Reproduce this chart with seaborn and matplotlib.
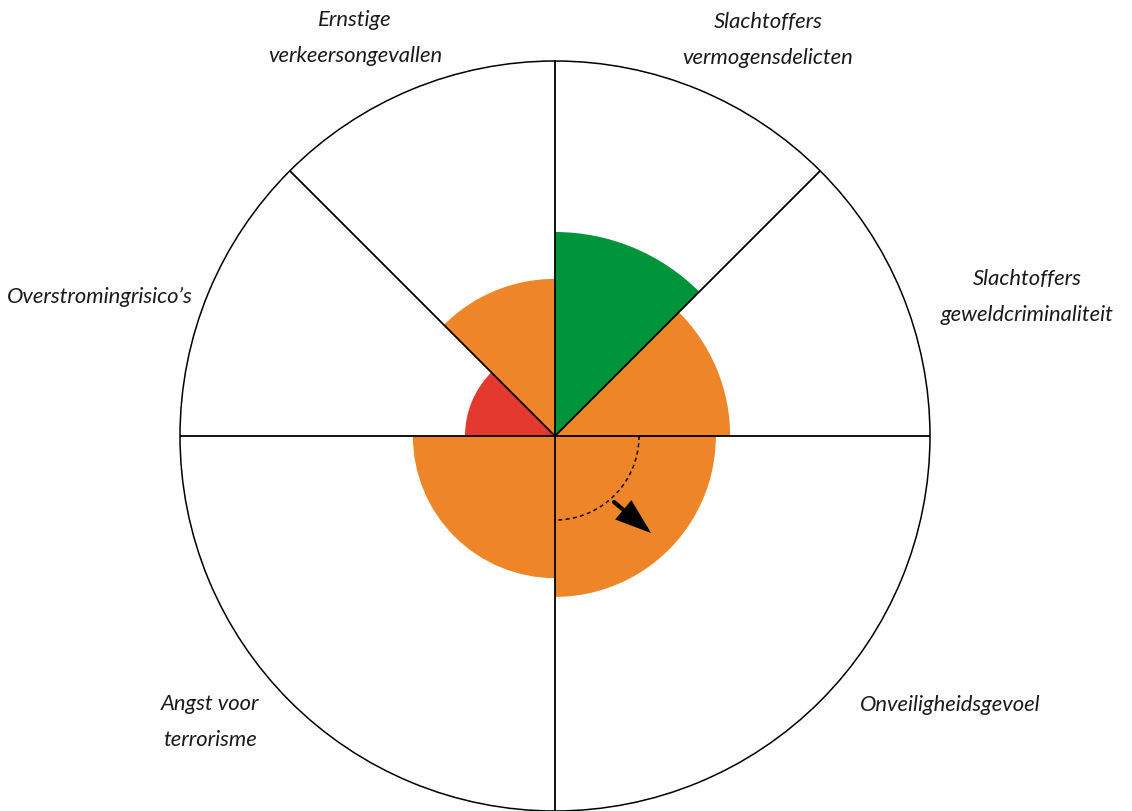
import matplotlib.pyplot as plt
import numpy as np
import seaborn as sns

# sectors, clockwise from north (degrees)
categories = [
    "Slachtoffers\nvermogensdelicten",
    "Slachtoffers\ngeweldcriminaliteit",
    "Onveiligheidsgevoel",
    "Angst voor\nterrorisme",
    "Overstromingrisico\u2019s",
    "Ernstige\nverkeersongevallen",
]
sector_start = [0, 45, 90, 180, 270, 315]
sector_width = [45, 45, 90, 90, 45, 45]
scores = [54.4, 46.7, 42.9, 37.9, 24.0, 41.9]  # outer circle = 100
status = ["groen", "oranje", "oranje", "oranje", "rood", "oranje"]

# earlier level and trend arrow in Onveiligheidsgevoel
previous_level = 22.4
trend_from = (138.2, 23.6)
trend_to = (135.3, 36.4)

status_colors = {"groen": "#00943A", "oranje": "#EE8629", "rood": "#E4392F"}

sns.set_style("white")
plt.rcParams["font.family"] = ["Lato", "DejaVu Sans"]

W, H = 1132, 812
fig = plt.figure(figsize=(W / 100, H / 100), dpi=100)
cx, cy, R = 555, 437, 375
ax = fig.add_axes([(cx - R) / W, (H - cy - R) / H, 2 * R / W, 2 * R / H], projection="polar")
ax.set_theta_zero_location("N")
ax.set_theta_direction(-1)

ax.bar(np.deg2rad(sector_start), scores, width=np.deg2rad(sector_width), align="edge",
       color=[status_colors[s] for s in status], edgecolor="none", linewidth=0, zorder=1)

# sector borders
for a in sector_start:
    ax.plot([np.deg2rad(a)] * 2, [0, 100], color="black", lw=1.3, zorder=3,
            solid_capstyle="butt")

# previous level as dotted arc
th = np.linspace(np.deg2rad(90), np.deg2rad(180), 100)
ax.plot(th, np.full_like(th, previous_level), color="black", lw=1.1,
        linestyle=(0, (2.6, 2.2)), zorder=3)

ax.annotate("", xy=(np.deg2rad(trend_to[0]), trend_to[1]),
            xytext=(np.deg2rad(trend_from[0]), trend_from[1]),
            arrowprops=dict(arrowstyle="-|>,head_length=1.0,head_width=0.35", lw=3.0,
                            color="black", mutation_scale=20, shrinkA=0, shrinkB=0,
                            joinstyle="miter"),
            zorder=4)

ax.set_ylim(0, 100)
ax.set_xticks([])
ax.set_yticks([])
ax.grid(False)
ax.spines["polar"].set_linewidth(1.1)
ax.spines["polar"].set_color("black")

# labels (pixel centres)
label_pos = [(768, 40), (1027, 297), (950, 705), (210, 722), (100, 297), (355, 38)]
for text, (px, py) in zip(categories, label_pos):
    fig.text(px / W, 1 - py / H, text, ha="center", va="center", fontsize=15.8,
             style="italic", linespacing=1.95, color="#1a1a1a")

fig.savefig("out.png", dpi=100, facecolor="white")
